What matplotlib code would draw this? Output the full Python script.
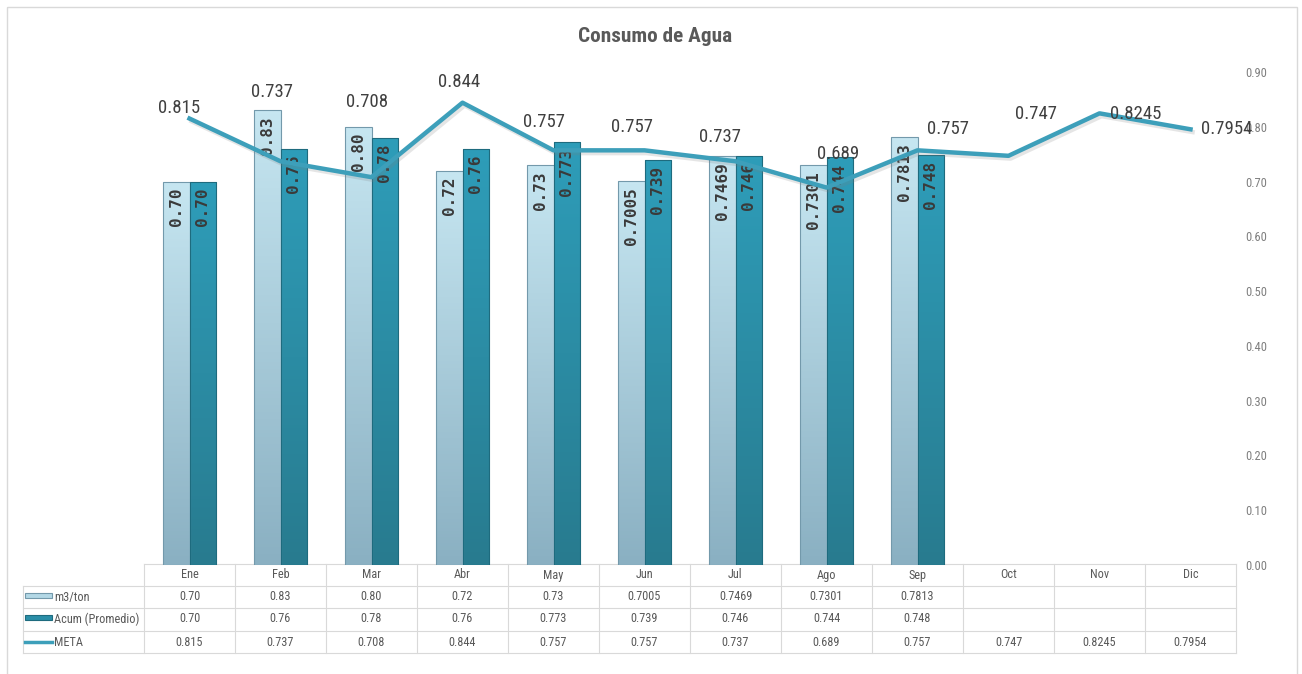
import numpy as np
import matplotlib
matplotlib.use("Agg")
import matplotlib.pyplot as plt
import matplotlib.patheffects as pe
from matplotlib import font_manager
from matplotlib.colors import LinearSegmentedColormap
from matplotlib.patches import Rectangle
from matplotlib.ticker import FormatStrFormatter
from matplotlib.transforms import blended_transform_factory

# chart values, as printed in the data table
MONTHS = ["Ene", "Feb", "Mar", "Abr", "May", "Jun", "Jul", "Ago", "Sep", "Oct", "Nov", "Dic"]
M3_TON = ["0.70", "0.83", "0.80", "0.72", "0.73", "0.7005", "0.7469", "0.7301", "0.7813"]
ACUM = ["0.70", "0.76", "0.78", "0.76", "0.773", "0.739", "0.746", "0.744", "0.748"]
META = ["0.815", "0.737", "0.708", "0.844", "0.757", "0.757", "0.737", "0.689", "0.757",
        "0.747", "0.8245", "0.7954"]
ROW_NAMES = ["m3/ton", "Acum (Promedio)", "META"]
TITLE = "Consumo de Agua"

# where Excel put the META labels, pixel offsets from the point
META_LABEL_OFFSETS = [(-10, 11), (-8, 69), (-4, 75), (-3, 21), (-10, 28), (-12, 23),
                      (-16, 24), (12, 34), (30, 21), (28, 42), (36, -1), (36, 0)]

W, H = 1302, 674

# a narrow face is closest to the Calibri look of the original; fall back to Open Sans
names = {f.name for f in font_manager.fontManager.ttflist}
FONT, k = "Open Sans", 0.82
for cand, scale in (("Liberation Sans Narrow", 1.0), ("Roboto Condensed", 0.9)):
    if cand in names:
        FONT, k = cand, scale
        break
plt.rcParams["font.family"] = [FONT, "DejaVu Sans"]

LIGHT_TOP, LIGHT_BOT = "#c6e6f1", "#8ab0c2"
DARK_TOP, DARK_BOT = "#2e9db9", "#287b8f"
LINE_C = "#3d9fba"
GRID_C = "#d9d9d9"
TEXT_C = "#595959"

m3 = np.array([float(v) for v in M3_TON])
acum = np.array([float(v) for v in ACUM])
meta = np.array([float(v) for v in META])
x = np.arange(len(MONTHS))

fig = plt.figure(figsize=(W / 100, H / 100), dpi=100)
ov = fig.add_axes([0, 0, 1, 1], zorder=0)
ov.set_xlim(0, W)
ov.set_ylim(H, 0)
ov.axis("off")

ax = fig.add_axes([144 / W, 1 - 565 / H, (1236 - 144) / W, (565 - 72) / H], zorder=1)
ax.patch.set_alpha(0)

# outer chart frame
ov.add_patch(Rectangle((7, 7), 1290, 700, fill=False, edgecolor=GRID_C, lw=1, clip_on=False))

grad = np.linspace(0, 1, 128).reshape(-1, 1)
cmap_light = LinearSegmentedColormap.from_list("light", [LIGHT_BOT, LIGHT_TOP])
cmap_dark = LinearSegmentedColormap.from_list("dark", [DARK_BOT, DARK_TOP])

bw = 0.29
bars_light = ax.bar(x[:len(m3)] - bw / 2, m3, width=bw, facecolor="none",
                    edgecolor="#7399ab", lw=0.8, zorder=2)
bars_dark = ax.bar(x[:len(acum)] + bw / 2, acum, width=bw, facecolor="none",
                   edgecolor="#1e6b7e", lw=0.8, zorder=2)
for bars, cm in ((bars_light, cmap_light), (bars_dark, cmap_dark)):
    for b in bars:
        x0, y0 = b.get_xy()
        im = ax.imshow(grad, cmap=cm, origin="lower", aspect="auto", zorder=1.9,
                       extent=[x0, x0 + b.get_width(), y0, y0 + b.get_height()])
        im.set_clip_path(b)

# value labels inside the bars
for xs, vals, labels in ((x[:len(m3)] - bw / 2, m3, M3_TON), (x[:len(acum)] + bw / 2, acum, ACUM)):
    for xi, v, s in zip(xs, vals, labels):
        ax.annotate(s, (xi, v), xytext=(0, -6), textcoords="offset pixels", rotation=90,
                    ha="center", va="top", family="DejaVu Sans Mono", fontweight="bold",
                    fontsize=11.5, color="#3a3a3a", zorder=3)

ax.plot(x, meta, color=LINE_C, lw=3.2, zorder=4,
        path_effects=[pe.SimpleLineShadow(offset=(1.5, -2), shadow_color="#7f7f7f", alpha=0.2),
                      pe.Normal()])
for xi, v, s, off in zip(x, meta, META, META_LABEL_OFFSETS):
    ax.annotate(s, (xi, v), xytext=off, textcoords="offset pixels", ha="center", va="center",
                fontsize=15 * k, color="#404040", zorder=5)

ax.set_xlim(-0.5, len(MONTHS) - 0.5)
ax.set_ylim(0, 0.9)
ax.set_xticks([])
ax.yaxis.tick_right()
ax.set_yticks(np.arange(0, 0.91, 0.1))
ax.yaxis.set_major_formatter(FormatStrFormatter("%.2f"))
ax.tick_params(axis="y", length=0, pad=7, labelsize=10 * k, labelcolor="#7f7f7f")
for sp in ax.spines.values():
    sp.set_visible(False)

fig.text(655 / W, 1 - 37 / H, TITLE, ha="center", va="center", fontsize=17 * k,
         fontweight="bold", color=TEXT_C)

# data table under the chart
tr = blended_transform_factory(ax.transData, ov.transData)
row_lines = [564, 586, 608, 631, 653]
row_mid = [575, 597, 619, 642]
ov.plot([-0.5, len(MONTHS) - 0.5], [row_lines[0]] * 2, color=GRID_C, lw=0.8, transform=tr)
for y in row_lines[1:]:
    ov.plot([23, 1236], [y, y], color=GRID_C, lw=0.8)
for i in range(len(MONTHS) + 1):
    ov.plot([i - 0.5, i - 0.5], [row_lines[0], row_lines[-1]], color=GRID_C, lw=0.8, transform=tr)
ov.plot([23, 23], [row_lines[1], row_lines[-1]], color=GRID_C, lw=0.8)

fs_tab = 9.8 * k
for i, m in enumerate(MONTHS):
    ov.text(i, row_mid[0], m, transform=tr, ha="center", va="center", fontsize=fs_tab, color=TEXT_C)
for r, vals in enumerate((M3_TON, ACUM, META)):
    for i, s in enumerate(vals):
        ov.text(i, row_mid[r + 1], s, transform=tr, ha="center", va="center",
                fontsize=fs_tab, color=TEXT_C)
    ov.text(54, row_mid[r + 1], ROW_NAMES[r], ha="left", va="center", fontsize=fs_tab, color=TEXT_C)

# legend keys in the table
ov.add_patch(Rectangle((25, row_mid[1] - 4), 27, 5, facecolor="#b3d8e6", edgecolor="#7399ab", lw=0.8))
ov.add_patch(Rectangle((25, row_mid[2] - 4), 27, 5, facecolor="#2a8ea8", edgecolor="#1e6b7e", lw=0.8))
ov.plot([25, 52], [row_mid[3], row_mid[3]], color=LINE_C, lw=2.5)

fig.savefig("out.png", dpi=100, facecolor="white")
